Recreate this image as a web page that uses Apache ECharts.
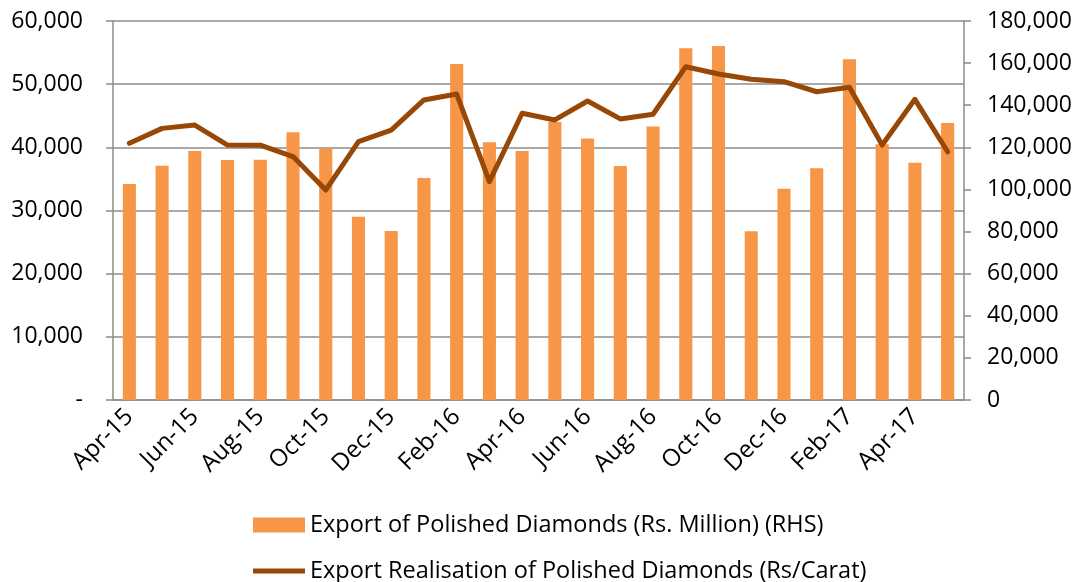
<!DOCTYPE html>
<html>
<head>
<meta charset="utf-8">
<script src="https://cdn.jsdelivr.net/npm/echarts@6/dist/echarts.min.js"></script>
<style>
  html, body { margin: 0; padding: 0; background: #fff; }
  #box1 { width: 1079px; height: 582px; }
</style>
</head>
<body>
<div id="box1"></div>
<script>
// months Apr-15 .. May-17
const months = [
  "Apr-15", "May-15", "Jun-15", "Jul-15", "Aug-15", "Sep-15", "Oct-15", "Nov-15", "Dec-15",
  "Jan-16", "Feb-16", "Mar-16", "Apr-16", "May-16", "Jun-16", "Jul-16", "Aug-16", "Sep-16",
  "Oct-16", "Nov-16", "Dec-16", "Jan-17", "Feb-17", "Mar-17", "Apr-17", "May-17"
];
// Rs. Million (left axis)
const exportValue = [
  34200, 37100, 39400, 38000, 38050, 42400, 39800, 29000, 26750,
  35150, 53200, 40800, 39400, 44000, 41400, 37050, 43300, 55700,
  56050, 26700, 33450, 36700, 53950, 40500, 37550, 43850
];
// Rs/Carat (right axis)
const realisation = [
  121900, 129000, 130600, 121100, 121000, 115600, 99700, 122700, 128200,
  142500, 145300, 103700, 136200, 133000, 142000, 133500, 135700, 158300,
  154800, 152300, 151200, 146400, 148500, 121100, 142800, 117900
];
const barName = "Export of Polished Diamonds (Rs. Million) (RHS)";
const lineName = "Export Realisation of Polished Diamonds (Rs/Carat)";

const FONT = "Open Sans";
const GREY = "#8c8c8c";

let myCharts = echarts.init(document.getElementById("box1"));

// one legend per row, so the second item never wraps to a new column
const legendBase = {
  left: 248,
  itemWidth: 52,
  itemHeight: 15,
  textStyle: { fontFamily: FONT, fontSize: 23.5, color: "#000" }
};

myCharts.setOption({
  animation: false,
  textStyle: { fontFamily: FONT },
  grid: { left: 113, right: 115, top: 21, bottom: 182 },
  legend: [
    Object.assign({}, legendBase, {
      top: 508,
      data: [{ name: barName, icon: "rect" }]
    }),
    Object.assign({}, legendBase, {
      top: 554,
      data: [{ name: lineName, icon: "path://M0,0 L52,0 L52,5 L0,5 Z" }]
    })
  ],
  xAxis: {
    type: "category",
    data: months,
    boundaryGap: true,
    axisLine: { lineStyle: { color: GREY, width: 1.5 } },
    axisTick: { interval: 1, length: 7, lineStyle: { color: GREY, width: 1.5 } },
    axisLabel: {
      interval: 1,
      rotate: 45,
      margin: 13,
      fontSize: 24,
      color: "#000",
      fontFamily: FONT
    }
  },
  yAxis: [
    {
      type: "value",
      min: 0,
      max: 60000,
      interval: 10000,
      position: "left",
      axisLine: { show: true, lineStyle: { color: GREY, width: 1.5 } },
      axisTick: { show: true, length: 7, lineStyle: { color: GREY, width: 1.5 } },
      splitLine: { show: true, lineStyle: { color: GREY, width: 1.5 } },
      axisLabel: {
        margin: 30,
        fontSize: 23,
        color: "#000",
        formatter: (v) => (v === 0 ? "-" : v.toLocaleString("en-US"))
      }
    },
    {
      type: "value",
      min: 0,
      max: 180000,
      interval: 20000,
      position: "right",
      axisLine: { show: true, lineStyle: { color: GREY, width: 1.5 } },
      axisTick: { show: true, length: 7, lineStyle: { color: GREY, width: 1.5 } },
      splitLine: { show: false },
      axisLabel: {
        margin: 23,
        fontSize: 23,
        color: "#000",
        formatter: (v) => v.toLocaleString("en-US")
      }
    }
  ],
  series: [
    {
      name: barName,
      type: "bar",
      yAxisIndex: 0,
      barWidth: "40%",
      data: exportValue,
      itemStyle: { color: "#F79646" }
    },
    {
      name: lineName,
      type: "line",
      yAxisIndex: 1,
      data: realisation,
      symbol: "none",
      lineStyle: { color: "#974806", width: 5, cap: "round", join: "round" },
      itemStyle: { color: "#974806" }
    }
  ]
});
</script>
</body>
</html>
